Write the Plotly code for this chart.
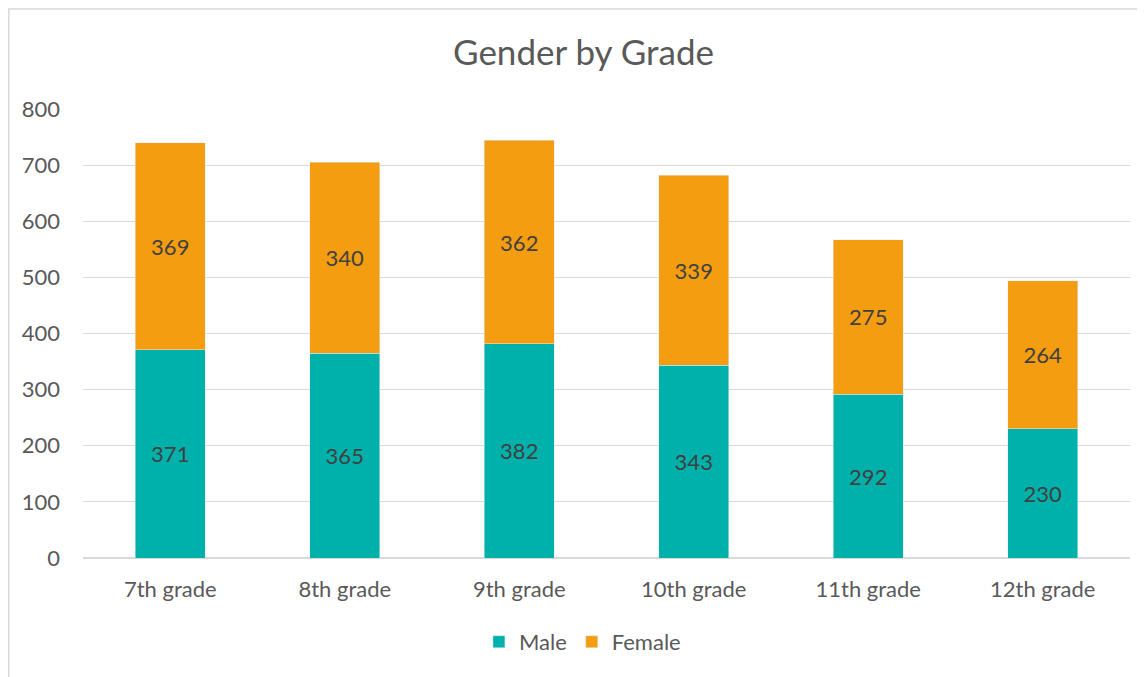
import plotly.graph_objects as go

categories = ["7th grade", "8th grade", "9th grade", "10th grade", "11th grade", "12th grade"]
male = [371, 365, 382, 343, 292, 230]
female = [369, 340, 362, 339, 275, 264]
y_ticks = [0, 100, 200, 300, 400, 500, 600, 700, 800]

MALE_COLOR = "#00B0AA"
FEMALE_COLOR = "#F59D10"
TEXT = "#595959"
FONT = "Lato, Open Sans, sans-serif"

# page offset of figure (body margin) = 8px
L, T, PW, PH = 75, 101, 1047, 449
W, H = 1145, 677

fig = go.Figure()
fig.add_trace(go.Bar(name="Male", x=categories, y=male, marker_color=MALE_COLOR,
                     text=male, textposition="inside", insidetextanchor="middle",
                     textfont=dict(color="#404040", size=22, family=FONT)))
fig.add_trace(go.Bar(name="Female", x=categories, y=female, marker_color=FEMALE_COLOR,
                     text=female, textposition="inside", insidetextanchor="middle",
                     textfont=dict(color="#404040", size=22, family=FONT)))

fig.update_layout(
    barmode="stack",
    bargap=0.6,
    width=W, height=H,
    margin=dict(l=L, r=W - L - PW, t=T, b=H - T - PH),
    paper_bgcolor="white", plot_bgcolor="white",
    font=dict(family=FONT, color=TEXT, size=22),
    title=dict(text="Gender by Grade", x=575.5 / W, xanchor="center", y=1 - 45 / H, yanchor="middle",
               font=dict(size=35, color=TEXT, family=FONT)),
    legend=dict(orientation="h", x=0.477, xanchor="center", y=-0.187, yanchor="middle",
                font=dict(size=22, color=TEXT), itemwidth=30, traceorder="normal"),
    uniformtext=dict(mode=False),
    showlegend=True,
)
fig.update_yaxes(range=[0, 800], tickvals=y_ticks, showgrid=True, gridcolor="#D9D9D9", gridwidth=1,
                 zeroline=True, zerolinecolor="#D9D9D9", showline=False, ticks="",
                 ticklabelstandoff=22, tickfont=dict(size=22, color=TEXT))
fig.update_xaxes(showgrid=False, showline=False, ticks="", ticklabelstandoff=16,
                 tickfont=dict(size=22, color=TEXT))

fig.add_shape(type="rect", xref="paper", yref="paper",
              x0=(0.75 - L) / PW, x1=1.2, y0=-0.6, y1=(PH + T - 1) / PH,
              line=dict(color="#D9D9D9", width=1.5), fillcolor="rgba(0,0,0,0)", layer="below")

fig.write_html("out.html")
